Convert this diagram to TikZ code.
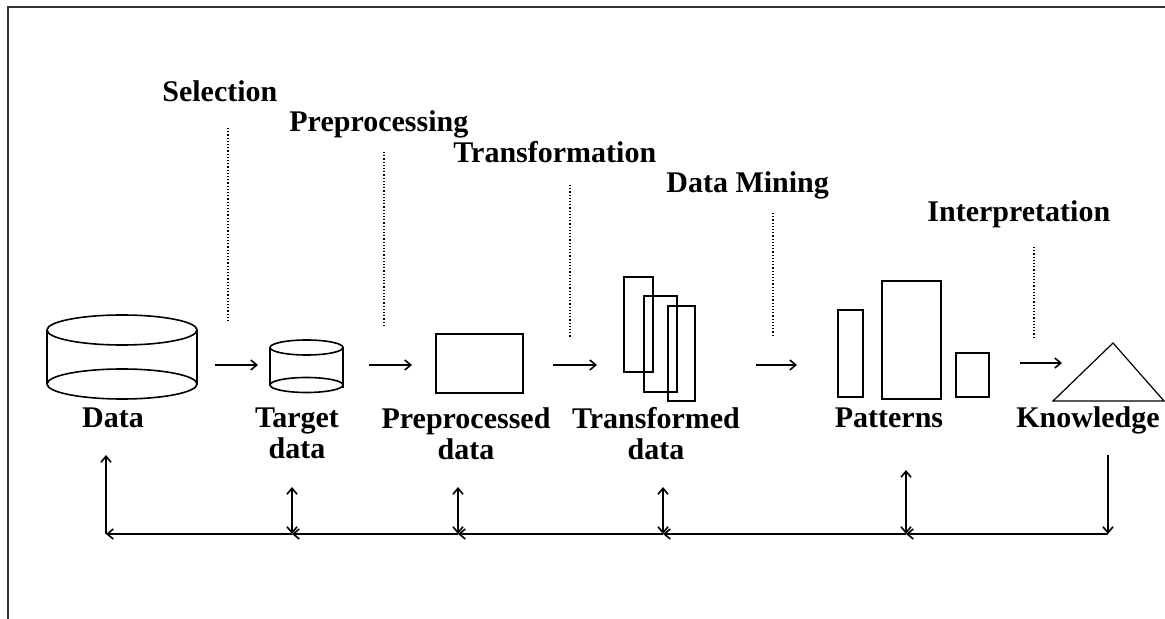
\documentclass[tikz,border=0pt]{standalone}
\usepackage{fontspec}
\setmainfont{Liberation Serif}
\usetikzlibrary{arrows.meta}

\begin{document}
\begin{tikzpicture}[x=0.5pt,y=-0.5pt,
  >={Straight Barb[length=3pt,width=5pt]},
  lbl/.style={font=\bfseries\fontsize{15}{15.5}\selectfont, inner sep=0pt},
  box/.style={draw, thick, inner sep=0pt},
  guide/.style={draw, densely dotted, line width=0.6pt}]
\useasboundingbox (0,0) rectangle (1165,619);
\path[draw,line width=1pt,black!80] (8,619) -- (8,7) -- (1165,7);

\node[lbl, anchor=base west] (sel) at (162,102) {Selection};
\node[lbl, anchor=base west] (prep) at (289,132) {Preprocessing};
\node[lbl, anchor=base west] (trans) at (453,163) {Transformation};
\node[lbl, anchor=base west] (mining) at (666,193) {Data Mining};
\node[lbl, anchor=base west] (interp) at (927,222) {Interpretation};

\coordinate (sel1) at (228,128);
\coordinate (sel2) at (228,322);
\coordinate (prep1) at (384,152);
\coordinate (prep2) at (384,326);
\coordinate (trans1) at (570,185);
\coordinate (trans2) at (570,338);
\coordinate (mining1) at (773,213);
\coordinate (mining2) at (773,337);
\coordinate (interp1) at (1034,247);
\coordinate (interp2) at (1034,337);
\path[guide] (sel1) -- (sel2);
\path[guide] (prep1) -- (prep2);
\path[guide] (trans1) -- (trans2);
\path[guide] (mining1) -- (mining2);
\path[guide] (interp1) -- (interp2);

\path[draw,thick] (122,330) ellipse [x radius=75, y radius=15];
\path[draw,thick] (122,384) ellipse [x radius=75, y radius=15];
\path[draw,thick] (47,330) -- (47,384);
\path[draw,thick] (197,330) -- (197,384);
\path[draw,thick] (306.5,347.5) ellipse [x radius=36.5, y radius=7.5];
\path[draw,thick] (306.5,385) ellipse [x radius=36.5, y radius=7.5];
\path[draw,thick] (270,347.5) -- (270,385);
\path[draw,thick] (343,347.5) -- (343,388);

\node[box, minimum width=43.5pt, minimum height=29.5pt] (pre) at (479.5,363.5) {};
\node[box, minimum width=14.5pt, minimum height=47.5pt] (tr1) at (638.5,324.5) {};
\node[box, minimum width=16.5pt, minimum height=48pt] (tr2) at (660.5,344) {};
\node[box, minimum width=13.5pt, minimum height=47.5pt] (tr3) at (681.5,353.5) {};
\node[box, minimum width=12.5pt, minimum height=43.5pt] (pat1) at (850.5,353.5) {};
\node[box, minimum width=29.5pt, minimum height=59pt] (pat2) at (911.5,340) {};
\node[box, minimum width=16.5pt, minimum height=22pt] (pat3) at (972.5,375) {};
\path[draw,semithick] (1053,401) -- (1113,343) -- (1164,401) -- cycle;

\node[lbl, anchor=base] (ldata) at (113,427) {Data};
\node[lbl, anchor=north, align=center] (ltarget) at (297,407) {Target\\data};
\node[lbl, anchor=north, align=center] (lpre) at (466,407) {Preprocessed\\data};
\node[lbl, anchor=north, align=center] (ltrans) at (656,407) {Transformed\\data};
\node[lbl, anchor=base] (lpat) at (889,427) {Patterns};
\node[lbl, anchor=base] (lknow) at (1088,427) {Knowledge};

\coordinate (a1) at (215,365);
\coordinate (b1) at (258,365);
\coordinate (a2) at (369,365);
\coordinate (b2) at (412,365);
\coordinate (a3) at (553,365);
\coordinate (b3) at (597,365);
\coordinate (a4) at (756,365);
\coordinate (b4) at (797,365);
\coordinate (a5) at (1020,363);
\coordinate (b5) at (1062,363);
\path[draw,thick,->] (a1) -- (b1);
\path[draw,thick,->] (a2) -- (b2);
\path[draw,thick,->] (a3) -- (b3);
\path[draw,thick,->] (a4) -- (b4);
\path[draw,thick,->] (a5) -- (b5);

\coordinate (f0) at (106,534);
\coordinate (f1) at (292,534);
\coordinate (f2) at (458,534);
\coordinate (f3) at (663,534);
\coordinate (f4) at (906,534);
\coordinate (f5) at (1108,534);
\coordinate (u0) at (106,455);
\coordinate (u1) at (292,487);
\coordinate (u2) at (458,487);
\coordinate (u3) at (663,487);
\coordinate (u4) at (906,470);
\coordinate (u5) at (1108,455);
\path[draw,thick,->] (u5) -- (f5);
\path[draw,thick,->] (f5) -- (f4);
\path[draw,thick,->] (f4) -- (f3);
\path[draw,thick,->] (f3) -- (f2);
\path[draw,thick,->] (f2) -- (f1);
\path[draw,thick,->] (f1) -- (f0);
\path[draw,thick,->] (f0) -- (u0);
\path[draw,thick,<->] (f1) -- (u1);
\path[draw,thick,<->] (f2) -- (u2);
\path[draw,thick,<->] (f3) -- (u3);
\path[draw,thick,<->] (f4) -- (u4);
\end{tikzpicture}
\end{document}
